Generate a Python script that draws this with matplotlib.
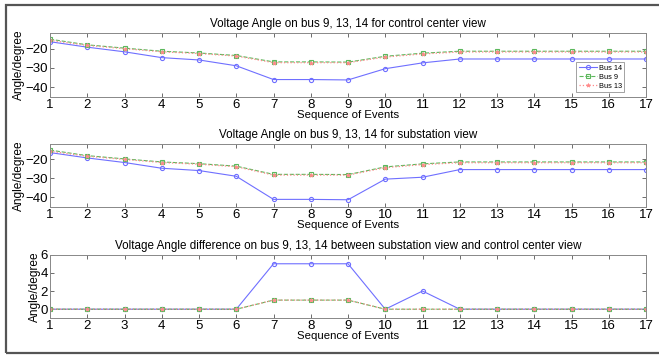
import matplotlib
matplotlib.use('Agg')
import matplotlib.pyplot as plt
from matplotlib.patches import Rectangle

plt.rcParams['font.family'] = ['Liberation Sans', 'DejaVu Sans']

events = list(range(1, 18))

# control center view
cc_bus14 = [-16.5, -19.3, -21.7, -24.7, -25.9, -28.9, -36.0, -36.0, -36.2, -30.4, -27.4,
            -25.4, -25.4, -25.4, -25.4, -25.4, -25.4]
cc_bus9 = [-15.2, -18.1, -19.8, -21.4, -22.3, -23.6, -26.9, -26.9, -27.0, -24.0, -22.4,
           -21.4, -21.4, -21.4, -21.4, -21.4, -21.4]
cc_bus13 = [-15.8, -18.4, -20.1, -21.7, -22.6, -23.9, -27.3, -27.3, -27.3, -24.4, -22.8,
            -21.8, -21.8, -21.8, -21.8, -21.8, -21.8]

# substation view
ss_bus14 = [-16.5, -19.3, -21.7, -24.7, -25.9, -28.9, -41.0, -41.0, -41.2, -30.4, -29.4,
            -25.4, -25.4, -25.4, -25.4, -25.4, -25.4]
ss_bus9 = [-15.2, -18.1, -19.8, -21.4, -22.3, -23.6, -27.9, -27.9, -28.0, -24.0, -22.4,
           -21.4, -21.4, -21.4, -21.4, -21.4, -21.4]
ss_bus13 = [-15.8, -18.4, -20.1, -21.7, -22.6, -23.9, -28.3, -28.3, -28.3, -24.4, -22.8,
            -21.8, -21.8, -21.8, -21.8, -21.8, -21.8]

# difference
diff_bus14 = [0, 0, 0, 0, 0, 0, 5, 5, 5, 0, 2, 0, 0, 0, 0, 0, 0]
diff_bus9 = [0, 0, 0, 0, 0, 0, 1, 1, 1, 0, 0, 0, 0, 0, 0, 0, 0]
diff_bus13 = [0, 0, 0, 0, 0, 0, 1, 1, 1, 0, 0, 0, 0, 0, 0, 0, 0]

titles = ['Voltage Angle on bus 9, 13, 14 for control center view',
          'Voltage Angle on bus 9, 13, 14 for substation view',
          'Voltage Angle difference on bus 9, 13, 14 between substation view and control center view']

fig = plt.figure(figsize=(6.59, 3.56), dpi=100)
fig.patches.append(Rectangle((6 / 659, 3 / 356), 1.0, 348 / 356, transform=fig.transFigure,
                             fill=False, edgecolor='#555555', linewidth=1.6, clip_on=False))

positions = [[0.0759, 0.7275, 0.9044, 0.1798],
             [0.0759, 0.4185, 0.9044, 0.1770],
             [0.0759, 0.1059, 0.9044, 0.1787]]
datasets = [(cc_bus14, cc_bus9, cc_bus13),
            (ss_bus14, ss_bus9, ss_bus13),
            (diff_bus14, diff_bus9, diff_bus13)]

for i, (pos, data, title) in enumerate(zip(positions, datasets, titles)):
    ax = fig.add_axes(pos)
    b14, b9, b13 = data
    ax.plot(events, b14, color='#6f6fff', linestyle='-', linewidth=0.8, marker='o',
            markersize=3, markerfacecolor='none', markeredgewidth=0.8, label='Bus 14')
    ax.plot(events, b9, color='#5cb85c', linestyle='--', linewidth=0.8, marker='s',
            markersize=3, markerfacecolor='none', markeredgewidth=0.8, label='Bus 9')
    ax.plot(events, b13, color='#ff8a8a', linestyle=':', linewidth=0.9, marker='*',
            markersize=3, markeredgewidth=0.5, label='Bus 13')
    ax.set_xlim(1, 17)
    ax.set_xticks(events)
    if i < 2:
        ax.set_ylim(-45, -12)
        ax.set_yticks([-40, -30, -20])
    else:
        ax.set_ylim(-1, 6)
        ax.set_yticks([0, 2, 4, 6])
    ax.tick_params(direction='in', top=True, right=True, length=3, width=0.6,
                   color='#555555', labelsize=9.5, pad=1.5)
    for s in ax.spines.values():
        s.set_color('#888888')
        s.set_linewidth(0.7)
    ax.set_title(title, fontsize=8.4, pad=4)
    ax.set_xlabel('Sequence of Events', fontsize=8.2, labelpad=-1)
    ax.set_ylabel('Angle/degree', fontsize=8.6, labelpad=0)
    if i == 0:
        leg = ax.legend(loc='lower right', bbox_to_anchor=(0.97, 0.02), fontsize=5.3,
                        frameon=True, fancybox=False, handlelength=2.5,
                        borderpad=0.3, labelspacing=0.25, handletextpad=0.3)
        leg.get_frame().set_edgecolor('#777777')
        leg.get_frame().set_linewidth(0.6)

plt.savefig('out.png', dpi=100)
plt.close()
